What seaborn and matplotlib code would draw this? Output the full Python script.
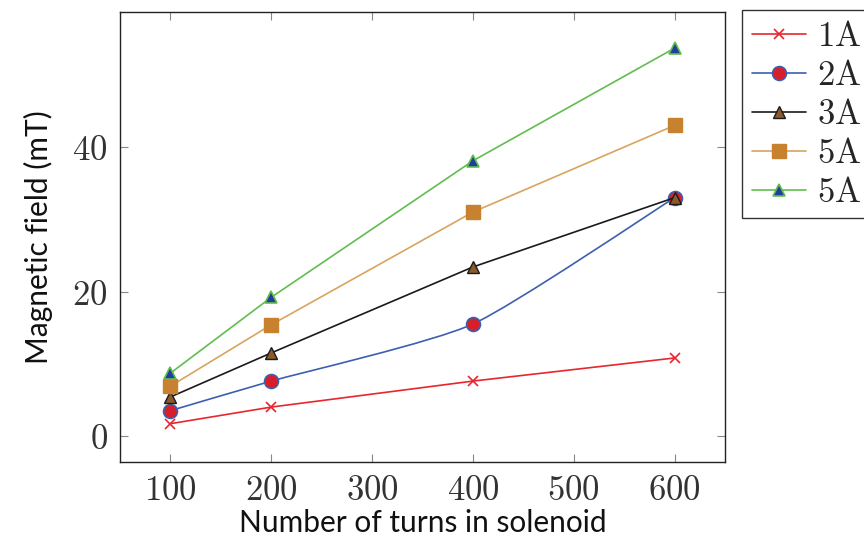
import numpy as np
import pandas as pd
import seaborn as sns
import matplotlib.pyplot as plt
from matplotlib.path import Path
from matplotlib.patches import PathPatch
from matplotlib.lines import Line2D
from matplotlib.ticker import FuncFormatter

# data
turns = [100, 200, 400, 600]
field_1a = [1.7, 4.0, 7.6, 10.8]
field_2a = [3.5, 7.6, 15.5, 33.0]
field_3a = [5.4, 11.5, 23.4, 33.0]
field_5a = [6.9, 15.4, 31.0, 43.0]
field_5a_b = [8.7, 19.2, 38.1, 53.7]
labels = ['1A', '2A', '3A', '5A', '5A']
x_ticks = [100, 200, 300, 400, 500, 600]
y_ticks = [0, 20, 40]

series = [field_1a, field_2a, field_3a, field_5a, field_5a_b]
styles = [
    dict(color='#e8262d', marker='x', mfc='#e8262d', mec='#e8262d', ms=7, mew=1.2),
    dict(color='#3d5fb0', marker='o', mfc='#d71f2b', mec='#3d5fb0', ms=10, mew=1.2),
    dict(color='#1a1a1a', marker='^', mfc='#8a5a2a', mec='#1a1a1a', ms=9, mew=1.0),
    dict(color='#d9a45e', marker='s', mfc='#c8812f', mec='#c8812f', ms=10, mew=1.0),
    dict(color='#62bd4f', marker='^', mfc='#203f9c', mec='#62bd4f', ms=9, mew=1.2),
]
smooth = [False, True, False, False, False]

sns.set_style('ticks')
plt.rcParams['mathtext.fontset'] = 'cm'
plt.rcParams['font.family'] = ['Lato', 'DejaVu Sans']

fig = plt.figure(figsize=(8.64, 5.37), dpi=100)
ax = fig.add_axes([0.1389, 0.1397, 0.7003, 0.838])

handles = []
for vals, lab, st, sm in zip(series, labels, styles, smooth):
    df = pd.DataFrame({'turns': turns, 'field': vals})
    if sm:
        # smooth line like pgfplots: cubic bezier through the points
        pts = df[['turns', 'field']].to_numpy(dtype=float)
        verts = [pts[0]]
        codes = [Path.MOVETO]
        n = len(pts)
        for i in range(n - 1):
            p_prev = pts[max(i - 1, 0)]
            p_next2 = pts[min(i + 2, n - 1)]
            c1 = pts[i] + (pts[i + 1] - p_prev) / 10
            c2 = pts[i + 1] - (p_next2 - pts[i]) / 10
            verts += [c1, c2, pts[i + 1]]
            codes += [Path.CURVE4] * 3
        ax.add_patch(PathPatch(Path(verts, codes), fill=False,
                               edgecolor=st['color'], lw=1.2, zorder=2))
        sns.lineplot(data=df, x='turns', y='field', ax=ax, linestyle='',
                     marker=st['marker'], markersize=st['ms'],
                     markerfacecolor=st['mfc'], markeredgecolor=st['mec'],
                     markeredgewidth=st['mew'], zorder=3)
    else:
        sns.lineplot(data=df, x='turns', y='field', ax=ax, color=st['color'],
                     lw=1.2, marker=st['marker'], markersize=st['ms'],
                     markerfacecolor=st['mfc'], markeredgecolor=st['mec'],
                     markeredgewidth=st['mew'], zorder=3)
    handles.append(Line2D([], [], color=st['color'], lw=1.2, marker=st['marker'],
                          markersize=st['ms'], markerfacecolor=st['mfc'],
                          markeredgecolor=st['mec'], markeredgewidth=st['mew'],
                          label=r'$\mathrm{%s}$' % lab))

ax.set_xlim(50, 650)
ax.set_ylim(-3.6, 58.7)
ax.set_xticks(x_ticks)
ax.set_yticks(y_ticks)
fmt = FuncFormatter(lambda v, p: r'$%d$' % v)
ax.xaxis.set_major_formatter(fmt)
ax.yaxis.set_major_formatter(fmt)
ax.tick_params(direction='in', length=6, width=0.8, color='#888888',
               top=True, right=True, labelsize=25, labelcolor='#333333', pad=9)
for sp in ax.spines.values():
    sp.set_color('#222222')
    sp.set_linewidth(1.0)

ax.set_xlabel('Number of turns in solenoid', fontsize=21.5, color='#111111', labelpad=2)
ax.set_ylabel('Magnetic field (mT)', fontsize=21.5, color='#111111', labelpad=14)

leg = ax.legend(handles=handles, loc='upper left', bbox_to_anchor=(1.028, 1.005),
                fontsize=25, frameon=True, fancybox=False, framealpha=1,
                edgecolor='#333333', handlelength=1.55, handletextpad=0.3,
                labelspacing=0.2, borderpad=0.3, borderaxespad=0)
leg.get_frame().set_linewidth(1.0)

fig.savefig('out.png', dpi=100)
